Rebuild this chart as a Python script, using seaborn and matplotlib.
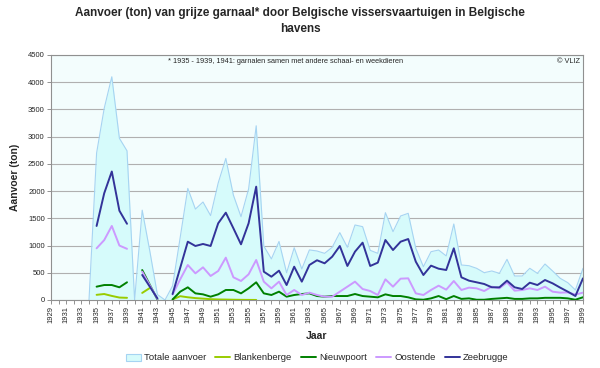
import numpy as np
import pandas as pd
import matplotlib
matplotlib.use("Agg")
import matplotlib.pyplot as plt
from matplotlib.lines import Line2D
from matplotlib.patches import Patch
import seaborn as sns

nan = np.nan
years = list(range(1929, 2000))

totale_aanvoer = [nan, nan, nan, nan, nan,
                  0, 2700, 3520, 4100, 2970, 2740, 0, 1650, 900, 100,
                  0, 260, 1150, 2050, 1670, 1800, 1550, 2150, 2600, 1925,
                  1530, 2040, 3200, 990, 755, 1075, 500, 960, 570, 920,
                  900, 857, 968, 1237, 968, 1378, 1347, 912, 857, 1604,
                  1255, 1543, 1592, 949, 612, 887, 918, 810, 1396, 643,
                  630, 582, 502, 533, 490, 747, 441, 441, 582, 490,
                  661, 533, 398, 318, 184, 582]

blankenberge = [nan] * 6 + [
    95, 110, 75, 45, 40, nan, 130, 220, nan, nan,
    10, 70, 50, 35, 25, 15, 10, 8, 5, 3,
    2, 1] + [nan] * 43

nieuwpoort = [nan] * 6 + [
    245, 275, 275, 233, 325, nan, 550, 280, 10, nan,
    10, 153, 233, 122, 104, 61, 104, 184, 184, 122,
    214, 325, 122, 92, 153, 61, 92, 110, 122, 73,
    61, 73, 73, 73, 110, 73, 61, 49, 104, 73,
    73, 49, 12, 5, 30, 73, 15, 73, 20, 30,
    5, 5, 20, 30, 40, 20, 20, 30, 30, 40,
    40, 40, 30, 5, 50]

oostende = [nan] * 6 + [
    950, 1100, 1360, 1000, 940, nan, 520, 270, 20, nan,
    100, 380, 643, 490, 600, 441, 533, 778, 417, 349,
    472, 735, 337, 214, 337, 92, 184, 92, 135, 92,
    61, 61, 153, 245, 337, 202, 165, 92, 380, 245,
    392, 398, 122, 92, 184, 263, 190, 349, 184, 227,
    214, 165, 245, 214, 325, 171, 184, 214, 184, 245,
    153, 135, 140, 100, 135]

zeebrugge = [nan] * 6 + [
    1360, 1960, 2360, 1640, 1400, nan, 460, 245, 30, nan,
    110, 590, 1071, 992, 1029, 992, 1409, 1604, 1317, 1023,
    1409, 2082, 520, 428, 539, 275, 612, 337, 643, 730,
    674, 796, 992, 625, 888, 1053, 625, 686, 1102, 918,
    1071, 1120, 704, 459, 631, 575, 551, 949, 417, 355,
    325, 294, 233, 233, 355, 233, 202, 318, 275, 367,
    306, 227, 153, 73, 398]

havens = ["Blankenberge", "Nieuwpoort", "Oostende", "Zeebrugge"]
kleuren = ["#99cc00", "#008000", "#cc99ff", "#333399"]

# long form, with a segment id so that gaps in the series stay gaps
reeksen = {"Totale aanvoer": totale_aanvoer, "Blankenberge": blankenberge,
           "Nieuwpoort": nieuwpoort, "Oostende": oostende, "Zeebrugge": zeebrugge}
rows = []
for naam, vals in reeksen.items():
    seg, vorige = 0, False
    for jr, v in zip(years, vals):
        if np.isnan(v):
            vorige = False
            continue
        if not vorige:
            seg += 1
        vorige = True
        rows.append({"Jaar": jr, "Haven": naam, "ton": v, "deel": seg})
df = pd.DataFrame(rows)

sns.set_style("white")
plt.rcParams['font.family'] = ['Liberation Sans', 'DejaVu Sans']

fig = plt.figure(figsize=(6, 3.68), dpi=100)
ax = fig.add_axes([51 / 600, 1 - 300 / 368, 532 / 600, 245 / 368])
ax.set_facecolor("#f3fdfd")

# total landings as area
ax.fill_between(years, np.array(totale_aanvoer, dtype=float), 0,
                color="#d6fbfb", lw=0, zorder=1)
sns.lineplot(data=df[df["Haven"] == "Totale aanvoer"], x="Jaar", y="ton",
             units="deel", estimator=None, color="#a6d4f2", lw=0.8,
             legend=False, ax=ax, zorder=2)

sns.lineplot(data=df[df["Haven"] != "Totale aanvoer"], x="Jaar", y="ton",
             hue="Haven", hue_order=havens, palette=kleuren, units="deel",
             estimator=None, lw=1.4, legend=False, ax=ax, zorder=3)

ax.set_xlim(1929, 1999)
ax.set_ylim(0, 4500)
ax.set_yticks(range(0, 4501, 500))
ax.set_xticks(range(1929, 2000, 2))
ax.set_xticks(range(1929, 2000), minor=True)
ax.grid(axis="y", color="#b0b0b0", lw=0.8, zorder=0)
ax.set_axisbelow(True)
ax.tick_params(axis="x", which="both", direction="out", length=3, width=0.6,
               color="#808080", bottom=True)
ax.tick_params(axis="x", labelsize=5.5, labelrotation=90, pad=1.5)
ax.tick_params(axis="y", direction="out", length=3, width=0.6,
               color="#808080", left=True, labelsize=5.5, pad=1.5)
for s in ax.spines.values():
    s.set_color("#909090")
    s.set_linewidth(0.8)

ax.set_xlabel("")
ax.set_ylabel("Aanvoer (ton)", fontsize=7.5, fontweight="bold", labelpad=6)
fig.text(317 / 600, 1 - 336 / 368, "Jaar", ha="center", va="center",
         fontsize=7.5, fontweight="bold")

fig.text(0.5, 1 - 21 / 368,
         "Aanvoer (ton) van grijze garnaal* door Belgische vissersvaartuigen in Belgische\nhavens",
         ha="center", va="center", fontsize=8.5, fontweight="bold", linespacing=1.5)

ax.text(0.44, 0.975, "* 1935 - 1939, 1941: garnalen samen met andere schaal- en weekdieren",
        transform=ax.transAxes, ha="center", va="center", fontsize=5.3)
ax.text(0.995, 0.975, "© VLIZ", transform=ax.transAxes, ha="right",
        va="center", fontsize=5.3)

handles = [Patch(facecolor="#d6fbfb", edgecolor="#a6d4f2", lw=0.8, label="Totale aanvoer")]
handles += [Line2D([], [], color=c, lw=1.4, label=h) for h, c in zip(havens, kleuren)]
fig.legend(handles=handles, loc="center", bbox_to_anchor=(317 / 600, 1 - 358 / 368),
           ncol=5, frameon=False, fontsize=6.8, handlelength=1.6, handletextpad=0.3,
           columnspacing=1.0, borderpad=0)

fig.savefig("out.png", dpi=100)
